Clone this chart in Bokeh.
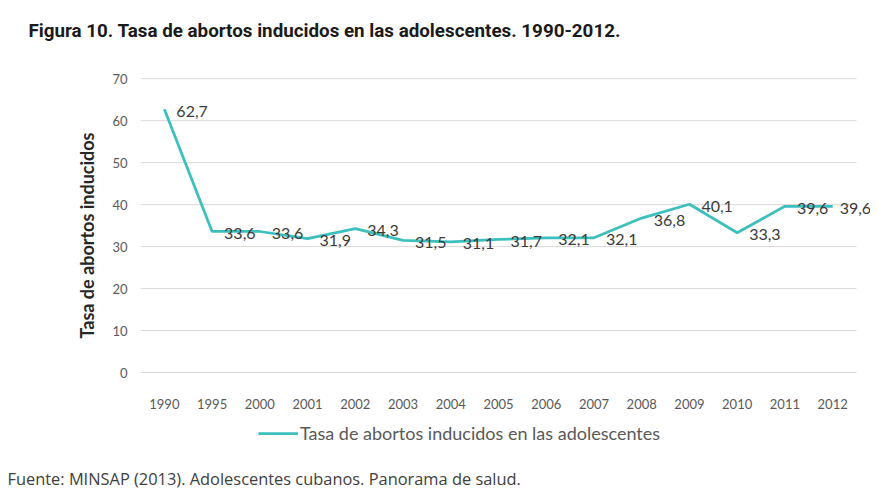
from bokeh.plotting import figure
from bokeh.layouts import column
from bokeh.models import (ColumnDataSource, Range1d, LabelSet, Legend, LegendItem,
                          FixedTicker, Title)
from bokeh.core.properties import value
from bokeh.embed import file_html
from bokeh.resources import INLINE

# ---- data ----
years = ["1990", "1995", "2000", "2001", "2002", "2003", "2004", "2005",
         "2006", "2007", "2008", "2009", "2010", "2011", "2012"]
rates = [62.7, 33.6, 33.6, 31.9, 34.3, 31.5, 31.1, 31.7,
         32.1, 32.1, 36.8, 40.1, 33.3, 39.6, 39.6]
y_ticks = [0, 10, 20, 30, 40, 50, 60, 70]

title_text = "Figura 10. Tasa de abortos inducidos en las adolescentes. 1990-2012."
y_title = "Tasa de abortos inducidos"
series_name = "Tasa de abortos inducidos en las adolescentes"
source_text = "Fuente: MINSAP (2013). Adolescentes cubanos. Panorama de salud."

# ---- layout ----
W = 870
H_MAIN, H_FOOT = 420, 71
LEFT, TOP = 140, 74
FRAME_BOTTOM = 396
PLOT_W = 716                      # width covered by the category bands
n = len(years)
x_end = -0.5 + n * (W - LEFT) / PLOT_W

LINE_COLOR = "#3CC0BE"
LINE_WIDTH = 2.75
TICK_COLOR = "#595959"
GRID_COLOR = "#D9D9D9"

idx = list(range(n))
labels = [f"{v:.1f}".replace(".", ",") for v in rates]
dx = [12] * n
dx[-1] = 7

src = ColumnDataSource(dict(x=idx, year=years, rate=rates, label=labels, dx=dx))

p = figure(width=W, height=H_MAIN,
           x_range=Range1d(-0.5, x_end),
           y_range=Range1d(-5.71, 71),
           output_backend="svg", toolbar_location=None,
           min_border_top=TOP, min_border_bottom=H_MAIN - FRAME_BOTTOM,
           min_border_left=LEFT, min_border_right=0)
p.outline_line_color = None
p.background_fill_color = "white"
p.border_fill_color = "white"
p.xgrid.visible = False
p.ygrid.visible = False

# title
p.title.text = title_text
p.title.align = "left"
p.title.vertical_align = "top"
p.title.offset = 28 - LEFT
p.title.standoff = 0
p.title.padding = dict(top=18, right=0, bottom=31, left=0)
p.title.text_font = "Roboto"
p.title.text_font_style = "bold"
p.title.text_font_size = "18.8px"
p.title.text_color = "#1A1A1A"

# axes
p.xaxis.ticker = FixedTicker(ticks=idx)
p.xaxis.major_label_overrides = {i: y for i, y in zip(idx, years)}
p.xaxis.axis_line_color = None
p.xaxis.major_tick_line_color = None
p.xaxis.major_tick_out = 0
p.xaxis.minor_tick_line_color = None
p.xaxis.major_label_standoff = 2
p.xaxis.major_label_text_font = "Lato"
p.xaxis.major_label_text_font_size = "13px"
p.xaxis.major_label_text_color = TICK_COLOR

p.yaxis.ticker = FixedTicker(ticks=y_ticks)
p.yaxis.axis_line_color = None
p.yaxis.major_tick_line_color = None
p.yaxis.major_tick_out = 0
p.yaxis.minor_tick_line_color = None
p.yaxis.major_label_standoff = 13
p.yaxis.major_label_text_font = "Lato"
p.yaxis.major_label_text_font_size = "13px"
p.yaxis.major_label_text_color = TICK_COLOR
p.yaxis.axis_label = y_title
p.yaxis.axis_label_text_font = "Lato"
p.yaxis.axis_label_text_font_style = "bold"
p.yaxis.axis_label_text_font_size = "18px"
p.yaxis.axis_label_text_color = "#262626"
p.yaxis.axis_label_standoff = 11

# horizontal gridlines over the category bands only
p.segment(x0=[-0.5] * len(y_ticks), x1=[n - 0.5] * len(y_ticks),
          y0=y_ticks, y1=y_ticks, line_color=GRID_COLOR, line_width=1)

r = p.line(x="x", y="rate", source=src, line_color=LINE_COLOR, line_width=LINE_WIDTH)

p.add_layout(LabelSet(x="x", y="rate", text="label", source=src,
                      x_offset="dx", y_offset=-2,
                      text_align="left", text_baseline="middle",
                      text_font=value("Lato"), text_font_size=value("16px"),
                      text_color=value("#3A3A3A")))

# ---- footer: legend and source ----
SRC_PANEL = 21
foot = figure(width=W, height=H_FOOT,
              x_range=Range1d(0, W - LEFT), y_range=Range1d(H_FOOT - SRC_PANEL, 0),
              x_axis_type=None, y_axis_type=None,
              output_backend="svg", toolbar_location=None,
              min_border_left=LEFT, min_border_right=0,
              min_border_top=0, min_border_bottom=SRC_PANEL)
foot.outline_line_color = None
foot.background_fill_color = "white"
foot.border_fill_color = "white"

# legend swatch renderer (no visible data of its own)
swatch = foot.line(x=[float("nan")], y=[float("nan")],
                   line_color=LINE_COLOR, line_width=LINE_WIDTH)
legend = Legend(items=[LegendItem(label=series_name, renderers=[swatch])],
                location=(258 - LEFT, (H_FOOT - SRC_PANEL) - 6 - 22),
                orientation="horizontal",
                border_line_color=None, background_fill_alpha=0,
                glyph_width=40, glyph_height=20, label_standoff=2,
                padding=0, margin=0, spacing=0, label_height=20,
                label_text_font="Lato", label_text_font_size="18px",
                label_text_color=TICK_COLOR)
foot.add_layout(legend)

src_title = Title(text=source_text, align="left", vertical_align="top",
                  offset=7 - LEFT, standoff=0,
                  text_font="Open Sans", text_font_style="normal",
                  text_font_size="16.4px", text_color="#404040")
foot.add_layout(src_title, "below")

layout = column(p, foot, spacing=0)
open("out.html", "w").write(file_html(layout, INLINE))
